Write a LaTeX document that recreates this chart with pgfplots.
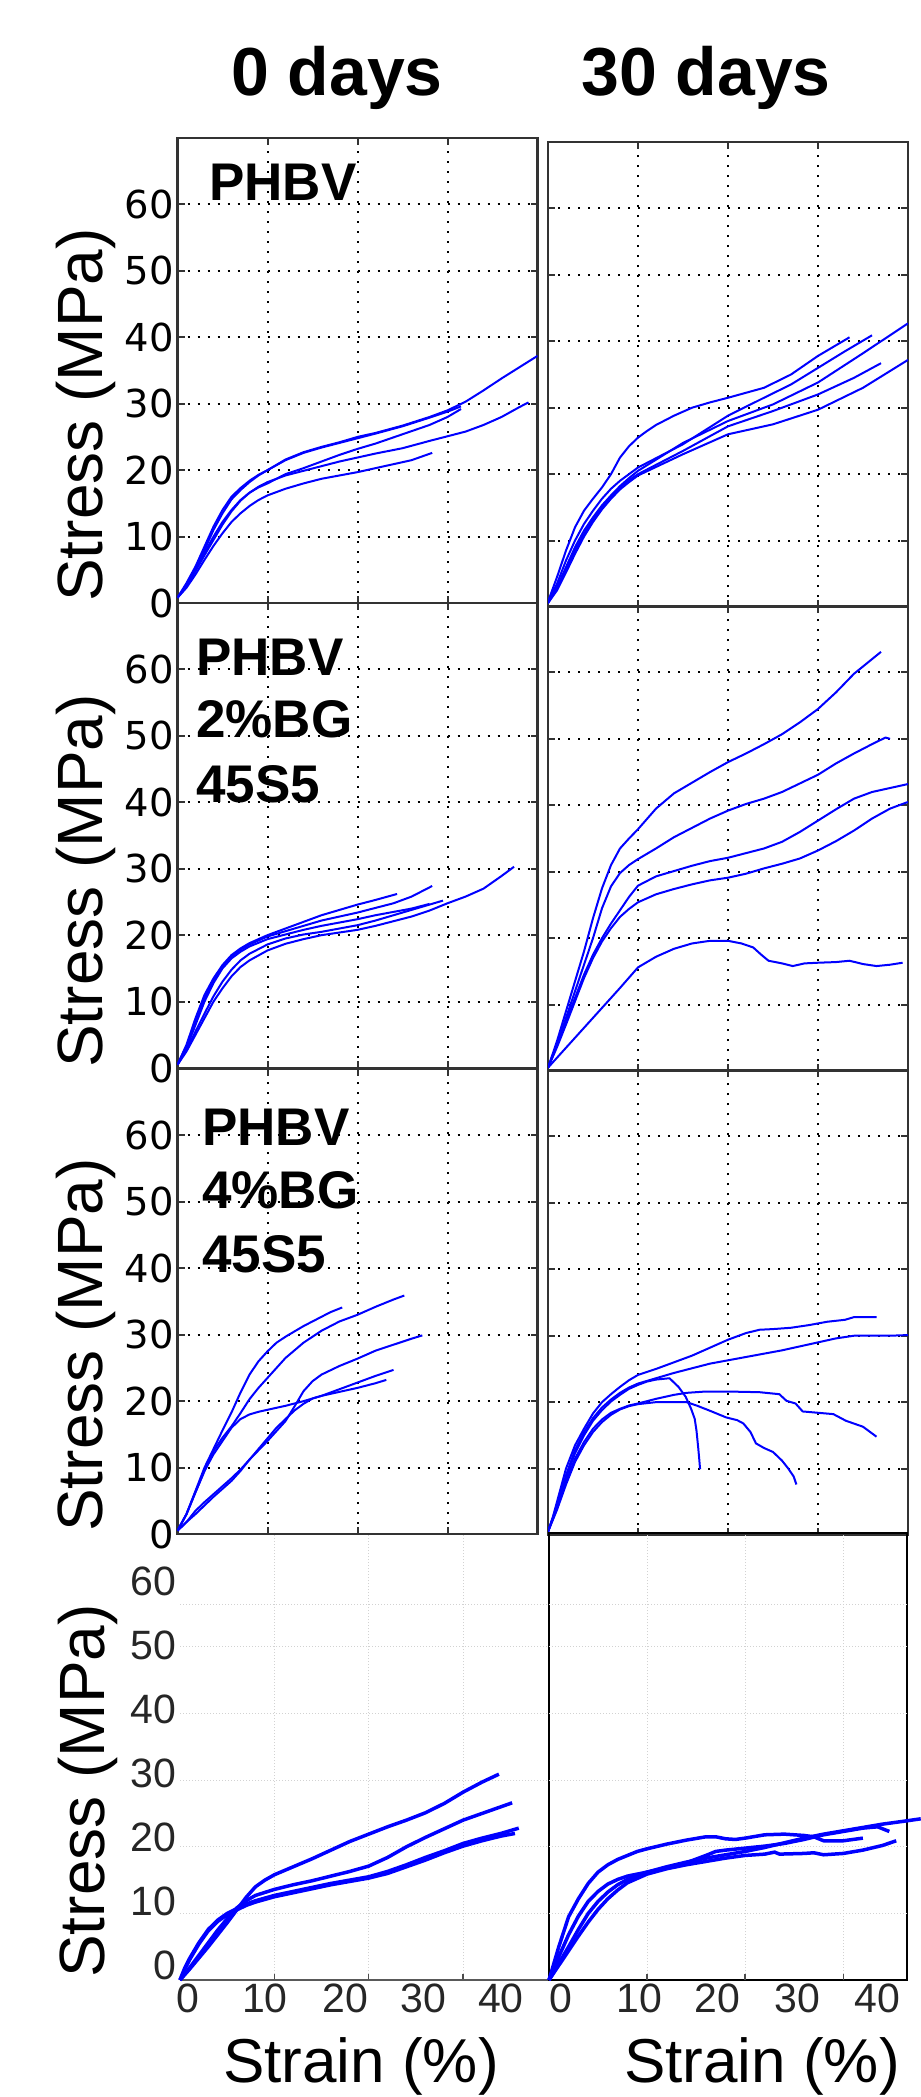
\documentclass[border=0pt]{standalone}
\usepackage{fontspec}
\setmainfont{Liberation Sans}
\newfontfamily\tickfont{DejaVu Sans}
\usepackage{pgfplots}
\pgfplotsset{compat=1.18}

% one panel of the 4x2 grid (1pt = 1px of the reference)
\pgfplotsset{
  panel/.style={
    anchor=north west, scale only axis, width=360pt, height=465pt,
    xmin=0, xmax=40, ymin=0, ymax=70,
    xtick={10,20,30}, ytick={0,10,...,60},
    xticklabels={},
    grid=major,
    grid style={black, line width=2pt, dash pattern=on 2pt off 8pt},
    axis line style={black!80, line width=2.5pt},
    tick align=inside, major tick length=7pt,
    tick style={black!80, line width=2pt},
    tick label style={font=\tickfont\fontsize{38.5}{38.5}\selectfont},
    /pgf/number format/assume math mode=true,
  },
  rpanel/.style={panel, yticklabels={}},
  lastrow/.style={
    anchor=north west, scale only axis, height=447pt,
    ymin=0, ymax=67.1, clip=false,
    xticklabels={0,10,20,30,40},
    ytick={2.25,11.85,21.45,31.05,40.65,50.25,59.85},
    major tick length=0pt,
    extra x ticks={10,20,30}, extra x tick labels={},
    extra x tick style={xmajorgrids=true, major tick length=6pt},
    extra y ticks={10,20,30,40,50,56.3}, extra y tick labels={},
    extra y tick style={ymajorgrids=true},
    grid style={gray!35, line width=1pt, dash pattern=on 1pt off 2pt},
    tick align=inside, tick style={black!70, line width=1.5pt},
    xtick pos=bottom, ytick pos=left,
    tick label style={font=\fontsize{41}{41}\selectfont, text=black!85},
  },
  curve/.style={blue, line width=2pt, line join=round},
  thick curve/.style={blue, line width=3.5pt, line join=round},
}

\begin{document}
\begin{tikzpicture}

% ---------- row 1: PHBV ----------
\begin{axis}[panel, at={(177.5pt,-138pt)}]
\addplot[curve] coordinates {(0,0.8)(1,3)(2,5.5)(3,8.5)(4,11.5)(5,14)(6,16)(7,17.3)(8,18.4)(9,19.3)(10,20)(12,21.6)(14,22.7)(16,23.5)(18,24.2)(20,25)(22,25.6)(25,26.7)(28,28)(30,29)(32,30.3)(34,32)(36,33.8)(38,35.5)(40,37.2)};
\addplot[curve] coordinates {(0,0.8)(1,2.8)(2,5.2)(3,8)(4,11)(5,13.5)(6,15.6)(7,17)(8,18.2)(9,19.2)(10,20)(12,21.5)(14,22.6)(16,23.4)(18,24.1)(20,24.8)(22,25.5)(25,26.6)(28,27.9)(30,28.8)(31.5,29.6)};
\addplot[curve] coordinates {(0,0.8)(1,2.5)(2,4.8)(3,7.2)(4,9.5)(5,11.8)(6,13.8)(7,15.4)(8,16.6)(9,17.4)(10,18)(12,19.4)(14,20.3)(16,21.3)(18,22.3)(20,23.2)(22,24)(25,25.4)(28,26.8)(30,28)(31.5,29.2)};
\addplot[curve] coordinates {(0,0.8)(1,2.6)(2,5)(3,7.6)(4,10)(5,12.2)(6,14)(7,15.5)(8,16.6)(9,17.5)(10,18.2)(12,19.2)(14,19.9)(16,20.6)(18,21.3)(20,21.9)(22,22.5)(25,23.3)(28,24.4)(30,25.1)(32,25.8)(34,26.8)(36,28)(38,29.5)(39,30.2)};
\addplot[curve] coordinates {(0,0.8)(1,2.3)(2,4.3)(3,6.5)(4,8.6)(5,10.5)(6,12.2)(7,13.5)(8,14.6)(9,15.5)(10,16.2)(12,17.2)(14,18)(16,18.7)(18,19.2)(20,19.7)(22,20.3)(24,20.9)(26,21.5)(28.3,22.6)};
\end{axis}

\begin{axis}[rpanel, at={(548pt,-142pt)}]
\addplot[curve] coordinates {(0,0.8)(1,4.5)(2,8.5)(3,12)(4,14.5)(5,16.3)(6,18)(7,20)(8,22.5)(9,24.2)(10,25.5)(11,26.5)(12,27.4)(14,28.8)(16,30)(18,30.8)(20,31.5)(24,33)(27,35)(30,37.8)(33.5,40.6)};
\addplot[curve] coordinates {(0,0.8)(1,3.5)(2,7)(3,10)(4,12.5)(5,14.5)(6,16.3)(7,17.8)(8,19)(9,20)(10,21)(15,24.5)(20,28.8)(24,31.5)(27,33.5)(30,36)(33,38.5)(36,40.9)};
\addplot[curve] coordinates {(0,0.6)(1,3)(2,6)(3,9)(4,11.5)(5,13.5)(6,15.3)(7,16.8)(8,18.2)(9,19.4)(10,20.5)(15,24.7)(20,28)(25,30.5)(30,33.8)(35,38.2)(40,42.7)};
\addplot[curve] coordinates {(0,0.6)(1,2.8)(2,5.5)(3,8.5)(4,11)(5,13.2)(6,15)(7,16.6)(8,18)(9,19.1)(10,20)(15,23.5)(20,27.2)(25,29.5)(30,32)(34,34.5)(37,36.7)};
\addplot[curve] coordinates {(0,0.6)(1,2.5)(2,5.2)(3,8)(4,10.6)(5,12.8)(6,14.7)(7,16.3)(8,17.7)(9,18.8)(10,19.8)(15,23)(20,26)(25,27.5)(30,29.7)(35,33)(40,37.2)};
\end{axis}

% ---------- row 2: PHBV 2%BG 45S5 ----------
\begin{axis}[panel, at={(177.5pt,-603pt)}]
\addplot[curve] coordinates {(0,0.5)(1,3.5)(2,7.5)(3,11)(4,13.5)(5,15.5)(6,17)(7,18)(8,18.8)(10,20)(12,21)(14,22)(16,23)(18,23.8)(20,24.6)(22,25.3)(24.4,26.2)};
\addplot[curve] coordinates {(0,0.5)(1,3.3)(2,7)(3,10.5)(4,13.2)(5,15.3)(6,16.8)(7,17.8)(8,18.6)(10,19.8)(12,20.6)(14,21.4)(16,22.2)(18,22.8)(20,23.4)(22,24.1)(24,24.8)(26,25.8)(28.3,27.4)};
\addplot[curve] coordinates {(0,0.5)(1,3)(2,6.5)(3,10)(4,12.8)(5,15)(6,16.5)(7,17.5)(8,18.3)(10,19.4)(12,20.1)(14,20.8)(16,21.4)(18,21.9)(20,22.4)(22,23)(24,23.5)(26,24)(28,24.7)};
\addplot[curve] coordinates {(0,0.5)(1,2.5)(2,5)(3,7.5)(4,10)(5,12)(6,13.8)(7,15.2)(8,16.2)(10,17.7)(12,18.7)(14,19.4)(16,20)(18,20.4)(20,20.8)(22,21.4)(24,22.1)(26,22.8)(28,23.7)(30,24.8)(32,25.8)(34,27)(36,28.9)(37.4,30.3)};
\addplot[curve] coordinates {(0,0.5)(1,2.7)(2,5.5)(3,8.2)(4,10.8)(5,13)(6,14.8)(7,16.2)(8,17.2)(10,18.6)(12,19.5)(14,20.1)(16,20.5)(18,21)(20,21.5)(22,22.2)(24,23)(26,23.8)(28,24.6)(29.5,25.2)};
\end{axis}

\begin{axis}[rpanel, at={(548pt,-606pt)}]
\addplot[curve] coordinates {(0,0.5)(1,4.5)(2,9)(3,13.5)(4,18)(5,23)(6,27.5)(7,31)(8,33.5)(9,35)(10,36.4)(12,39.5)(14,41.8)(16,43.4)(18,45)(20,46.5)(22,47.8)(24,49.2)(26,50.7)(28,52.5)(30,54.5)(32,57)(34,59.8)(37,63.1)};
\addplot[curve] coordinates {(0,0.5)(1,4)(2,8)(3,12)(4,16)(5,20)(6,24.5)(7,27.8)(8,29.8)(9,31)(10,31.9)(12,33.5)(14,35.2)(16,36.6)(18,38)(20,39.2)(22,40.2)(24,41)(26,42)(28,43.3)(30,44.6)(32,46.3)(34,47.8)(36,49.2)(37.5,50.2)(38,50)};
\addplot[curve] coordinates {(0,0.5)(1,3.8)(2,7.5)(3,11)(4,14.5)(5,17.5)(6,20)(7,22.2)(8,24.2)(9,26.2)(10,27.9)(12,29.3)(14,30.1)(16,30.9)(18,31.6)(20,32.1)(22,32.8)(24,33.5)(26,34.5)(28,36)(30,37.7)(32,39.4)(34,41)(36,42)(38,42.6)(40,43.2)};
\addplot[curve] coordinates {(0,0.5)(1,3.6)(2,7)(3,10.5)(4,14)(5,17)(6,19.5)(7,21.5)(8,23.2)(9,24.4)(10,25.4)(12,26.6)(14,27.4)(16,28.1)(18,28.7)(20,29.1)(22,29.7)(24,30.5)(26,31.2)(28,32)(30,33.2)(32,34.6)(34,36.2)(36,38)(38,39.5)(40,40.5)};
\addplot[curve] coordinates {(0,0.5)(2,3.5)(4,6.5)(6,9.5)(8,12.5)(10,15.6)(12,17.2)(14,18.4)(16,19.2)(18,19.6)(20,19.6)(21.5,19.2)(22.8,18.6)(23.7,17.5)(24.5,16.6)(26,16.2)(27.2,15.8)(28.5,16.2)(30,16.3)(32,16.4)(33.5,16.6)(35,16.1)(36.5,15.8)(38,16)(39.4,16.3)};
\end{axis}

% ---------- row 3: PHBV 4%BG 45S5 ----------
\begin{axis}[panel, at={(177.5pt,-1069pt)}]
\addplot[curve] coordinates {(0,0.5)(1,3)(2,6.5)(3,10)(4,12.8)(5,15.6)(6,18.3)(7,21.3)(8,24)(9,26)(10,27.5)(11,28.8)(12,29.7)(13,30.5)(14,31.3)(15,32)(16,32.7)(17,33.4)(18.3,34.1)};
\addplot[curve] coordinates {(0,0.5)(1,3)(2,6.3)(3,9.5)(4,12.5)(5,14.5)(6,16.2)(7,18.2)(8,20.3)(9,22)(10,23.5)(12,26.5)(14,28.8)(16,30.6)(18,32)(20,33)(22,34.2)(24,35.3)(25.2,35.9)};
\addplot[curve] coordinates {(0,0.5)(1,1.8)(2,3.5)(3,4.8)(4,6)(5,7.2)(6,8.4)(7,9.7)(8,11.2)(9,12.6)(10,14)(11,15.5)(12,17)(13,19.2)(14,21.5)(15,23)(16,24)(18,25.3)(20,26.4)(22,27.6)(24,28.5)(26,29.4)(27.2,29.9)};
\addplot[curve] coordinates {(0,0.5)(1,3)(2,6.3)(3,9.5)(4,12)(5,14)(6,16)(7,17.3)(8,18)(9,18.4)(10,18.7)(12,19.3)(14,20)(16,20.8)(18,21.8)(20,22.8)(22,23.8)(24,24.7)};
\addplot[curve] coordinates {(0,0.5)(1,1.8)(2,3)(3,4.3)(4,5.6)(5,6.8)(6,8)(7,9.5)(8,11.2)(9,12.8)(10,14.4)(11,16)(12,17.3)(13,18.6)(14,19.6)(15,20.4)(16,20.8)(18,21.4)(20,22)(22,22.7)(23.2,23.2)};
\end{axis}

\begin{axis}[rpanel, at={(548pt,-1070pt)}]
\addplot[curve] coordinates {(0,0.5)(0.5,2.5)(1,5)(2,10)(3,13.5)(4,16)(5,18.3)(6,20)(7,21.2)(8,22.3)(9,23.3)(10,24.1)(12,25)(14,26)(16,27)(18,28.2)(20,29.4)(22,30.4)(23.5,30.9)(25,31)(27,31.2)(29,31.6)(31,32.1)(33,32.4)(34,32.8)(36.5,32.8)};
\addplot[curve] coordinates {(0,0.5)(1,4.5)(2,9)(3,12.8)(4,15.5)(5,17.6)(6,19.2)(7,20.4)(8,21.4)(9,22.2)(10,22.8)(12,23.6)(14,24.4)(16,25.1)(18,25.8)(20,26.3)(22,26.8)(24,27.3)(26,27.8)(28,28.4)(30,29)(32,29.6)(34,30)(36,30)(38,30)(40,30.1)};
\addplot[curve] coordinates {(0,0.5)(1,4.3)(2,8.6)(3,12.3)(4,15)(5,17.2)(6,18.8)(7,20.1)(8,21.1)(9,22)(10,22.6)(11,23.1)(12,23.4)(13.5,23.6)(14.5,22.3)(15.3,20.8)(15.9,19)(16.3,17.5)(16.5,15.7)(16.7,13)(16.8,11.5)(16.9,9.9)};
\addplot[curve] coordinates {(0,0.5)(1,4)(2,8)(3,11.5)(4,14)(5,16)(6,17.4)(7,18.4)(8,19)(9,19.5)(10,19.8)(12,20.5)(14,21.1)(15.4,21.4)(17.5,21.6)(20,21.6)(23.5,21.5)(25.7,21.2)(26.5,20.2)(27.5,19.8)(28.3,18.6)(30,18.4)(31.7,18.2)(33.1,17.2)(35,16.3)(36.5,14.8)};
\addplot[curve] coordinates {(0,0.5)(1,3.8)(2,7.6)(3,11)(4,13.5)(5,15.5)(6,17)(7,18.1)(8,18.9)(9,19.4)(10,19.7)(12,20)(14,20)(15.4,20)(16.5,19.5)(18,18.7)(19.8,17.7)(21,17.3)(21.7,16.8)(22.5,15.5)(23.1,13.8)(24,13.1)(25,12.5)(26,11.2)(26.7,10)(27.3,8.8)(27.6,7.6)};
\end{axis}

% ---------- row 4 ----------
\begin{axis}[lastrow, at={(180pt,-1533pt)}, width=368pt, xmin=0, xmax=39,
  xtick={0.85,9,17.5,25.8,34}, yticklabels={0,10,20,30,40,50,60},
  axis line style={draw=none}]
\draw[black!65, line width=2pt] (rel axis cs:0,0) -- (rel axis cs:1,0);
\addplot[thick curve] coordinates {(0,0)(1,1.6)(2,3.3)(3,5)(4,6.8)(5,8.6)(6,10.5)(7,12.4)(8,14)(9,15)(10,15.8)(12,17)(14,18.2)(16,19.5)(18,20.8)(20,21.9)(22,23)(24,24)(26,25.1)(28,26.5)(30,28.2)(32,29.7)(33.8,30.9)};
\addplot[thick curve] coordinates {(0,0)(1,1.8)(2,3.7)(3,5.6)(4,7.5)(5,9.2)(6,10.8)(7,11.9)(8,12.7)(10,13.6)(12,14.3)(14,14.9)(16,15.6)(18,16.3)(20,17.1)(22,18.4)(24,20)(26,21.4)(28,22.7)(30,24)(32,25)(34,26)(35.2,26.6)};
\addplot[thick curve] coordinates {(0,0)(0.5,1.8)(1,3.2)(2,5.6)(3,7.6)(4,9)(5,10)(6,10.7)(7,11.4)(8,11.9)(10,12.7)(12,13.3)(14,13.9)(16,14.5)(18,15)(20,15.5)(22,16.3)(24,17.3)(26,18.4)(28,19.4)(30,20.5)(32,21.3)(34,22)(35.9,22.8)};
\addplot[thick curve] coordinates {(0,0)(0.5,1.6)(1,3)(2,5.4)(3,7.4)(4,8.8)(5,9.8)(6,10.5)(7,11.2)(8,11.7)(10,12.5)(12,13.1)(14,13.7)(16,14.3)(18,14.8)(20,15.3)(22,16)(24,17)(26,18)(28,19.1)(30,20.1)(32,20.9)(34,21.6)(35.5,22)};
\end{axis}

\begin{axis}[lastrow, at={(549pt,-1533pt)}, width=358pt, xmin=0, xmax=36.5,
  xtick={1.2,9.2,17.2,25.3,33.5}, yticklabels={},
  axis line style={black, line width=2pt}]
\addplot[thick curve] coordinates {(0,0)(1,5)(2,9.5)(3,12.2)(4,14.5)(5,16.2)(6,17.3)(7,18.1)(8,18.7)(9,19.3)(10,19.7)(12,20.4)(14,21)(16,21.5)(17,21.5)(18,21.2)(19,21.1)(20,21.3)(22,21.8)(24,21.9)(26,21.7)(27,21.5)(28,20.9)(30,20.9)(32,21.3)};
\addplot[thick curve] coordinates {(0,0)(1,3.5)(2,6.8)(3,9.6)(4,11.8)(5,13.3)(6,14.4)(7,15.1)(8,15.6)(10,16.2)(12,16.8)(14,17.6)(16,18.7)(17,19.3)(18,19.5)(20,19.8)(22,20.1)(24,20.5)(26,21.1)(28,21.8)(30,22.3)(32,22.8)(33.5,23)(34.7,22.3)};
\addplot[thick curve] coordinates {(0,0)(1,2.5)(2,5)(3,7.6)(4,10)(5,11.8)(6,13.2)(7,14.3)(8,15.1)(10,16.2)(12,17)(14,17.7)(16,18.3)(18,18.8)(20,19.3)(22,19.9)(24,20.6)(26,21.3)(28,21.9)(30,22.4)(32,22.9)(34,23.4)(36,23.8)(37.9,24.2)};
\addplot[thick curve] coordinates {(0,0)(1,2.2)(2,4.4)(3,6.6)(4,8.7)(5,10.6)(6,12.2)(7,13.5)(8,14.6)(10,15.9)(12,16.7)(14,17.3)(16,17.8)(18,18.3)(20,18.7)(22,18.9)(23,19.2)(23.5,18.9)(26,19)(27,19.1)(28,18.8)(30,19)(32,19.5)(34,20.2)(35.4,20.9)};
\end{axis}

% ---------- titles and labels ----------
\node[anchor=base, font=\fontsize{68}{68}\selectfont\bfseries] at (337pt,-95pt) {0 days};
\node[anchor=base, font=\fontsize{68}{68}\selectfont\bfseries] at (706pt,-95pt) {30 days};

\node[anchor=base west, inner sep=0pt, font=\fontsize{53}{53}\selectfont\bfseries] at (209pt,-200pt) {PHBV};
\node[anchor=base west, inner sep=0pt, font=\fontsize{53}{53}\selectfont\bfseries] at (196pt,-675pt) {PHBV};
\node[anchor=base west, inner sep=0pt, font=\fontsize{53}{53}\selectfont\bfseries] at (196pt,-737pt) {2\%BG};
\node[anchor=base west, inner sep=0pt, font=\fontsize{53}{53}\selectfont\bfseries] at (196pt,-802pt) {45S5};
\node[anchor=base west, inner sep=0pt, font=\fontsize{53}{53}\selectfont\bfseries] at (202pt,-1145pt) {PHBV};
\node[anchor=base west, inner sep=0pt, font=\fontsize{53}{53}\selectfont\bfseries] at (202pt,-1208pt) {4\%BG};
\node[anchor=base west, inner sep=0pt, font=\fontsize{53}{53}\selectfont\bfseries] at (202pt,-1272pt) {45S5};

\node[rotate=90, anchor=base, inner sep=0pt, font=\fontsize{64}{64}\selectfont] at (102pt,-415pt) {Stress (MPa)};
\node[rotate=90, anchor=base, inner sep=0pt, font=\fontsize{64}{64}\selectfont] at (102pt,-881pt) {Stress (MPa)};
\node[rotate=90, anchor=base, inner sep=0pt, font=\fontsize{64}{64}\selectfont] at (102pt,-1345pt) {Stress (MPa)};
\node[rotate=90, anchor=base, inner sep=0pt, font=\fontsize{64}{64}\selectfont] at (104pt,-1791pt) {Stress (MPa)};

\node[anchor=base, inner sep=0pt, font=\fontsize{62}{62}\selectfont] at (361pt,-2082pt) {Strain (\%)};
\node[anchor=base, inner sep=0pt, font=\fontsize{62}{62}\selectfont] at (762pt,-2082pt) {Strain (\%)};

\pgfresetboundingbox
\path[use as bounding box] (0pt,0pt) rectangle (921pt,-2097pt);
\end{tikzpicture}
\end{document}
